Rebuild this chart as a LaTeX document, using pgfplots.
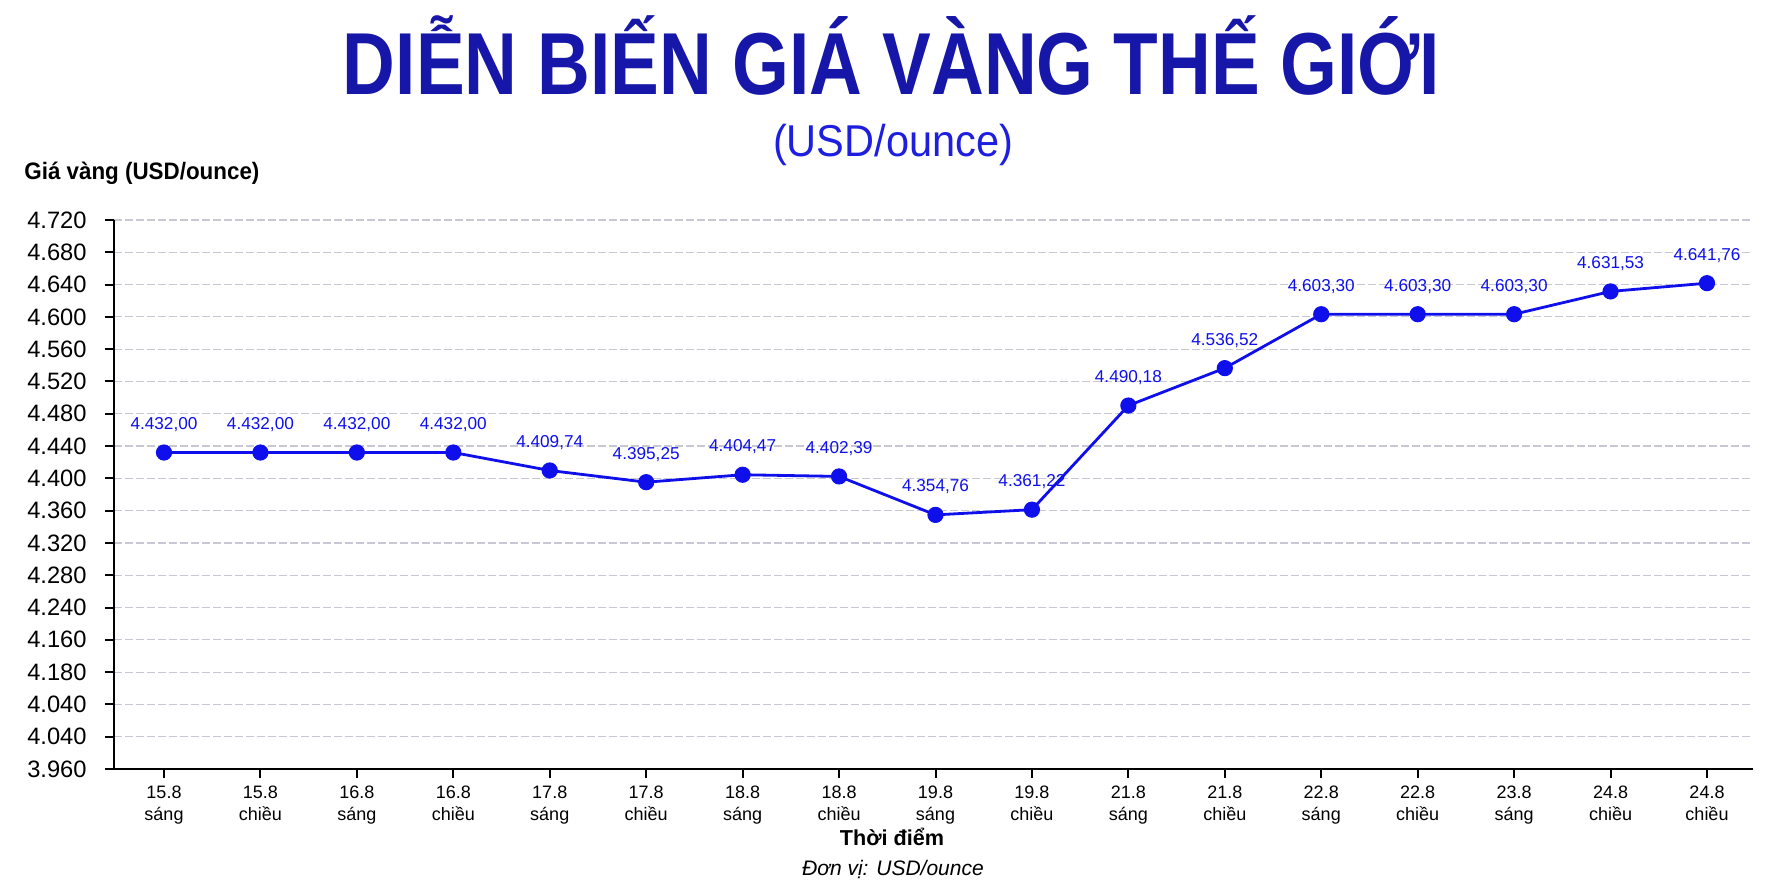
\documentclass[border=0pt]{standalone}
\usepackage{fontspec}
\setmainfont{Liberation Sans}
\usepackage{graphicx}
\usepackage{pgfplots}
\usepackage{pgfplotstable}
\pgfplotsset{compat=1.18}

\definecolor{titleblue}{RGB}{22,22,168}
\definecolor{subblue}{RGB}{30,30,225}
\definecolor{lineblue}{RGB}{15,15,235}
\definecolor{gridgray}{RGB}{200,200,212}

% gold price, USD/ounce
\pgfplotstableread{
x y
0 4432.00
1 4432.00
2 4432.00
3 4432.00
4 4409.74
5 4395.25
6 4404.47
7 4402.39
8 4354.76
9 4361.22
10 4490.18
11 4536.52
12 4603.30
13 4603.30
14 4603.30
15 4631.53
16 4641.76
}\goldtable

\begin{document}
\begin{tikzpicture}
\useasboundingbox (0,0) rectangle (887pt,-443.5pt);

% titles
\node[anchor=base, inner sep=0, text=titleblue] at (445.75pt,-47.5pt)
  {\resizebox{548.5pt}{\height}{\fontsize{44}{48}\selectfont\bfseries DIỄN BIẾN GIÁ VÀNG THẾ GIỚI}};
\node[anchor=base, inner sep=0, text=subblue] at (446.5pt,-78.5pt)
  {\resizebox{120pt}{\height}{\fontsize{22.3}{26}\selectfont (USD/ounce)}};
\node[anchor=base west, inner sep=0] at (12pt,-90pt)
  {\resizebox{117.5pt}{\height}{\fontsize{11.9}{14}\selectfont\bfseries Giá vàng (USD/ounce)}};

\begin{axis}[
  at={(57pt,-384.5pt)}, anchor=south west,
  scale only axis, width=819.5pt, height=274.5pt,
  xmin=-0.5185, xmax=16.477, ymin=4040, ymax=4720,
  axis x line*=bottom, axis y line*=left,
  axis line style={line width=1pt, black, -},
  ytick={4040,4080,...,4720},
  yticklabels={3.960,4.040,4.040,4.180,4.160,4.240,4.280,4.320,4.360,4.400,4.440,4.480,4.520,4.560,4.600,4.640,4.680,4.720},
  xtick={0,...,16},
  xticklabels={{15.8\\sáng},{15.8\\chiều},{16.8\\sáng},{16.8\\chiều},{17.8\\sáng},{17.8\\chiều},{18.8\\sáng},{18.8\\chiều},{19.8\\sáng},{19.8\\chiều},{21.8\\sáng},{21.8\\chiều},{22.8\\sáng},{22.8\\chiều},{23.8\\sáng},{24.8\\chiều},{24.8\\chiều}},
  tick align=outside, major tick length=4.5pt,
  tick style={line width=1pt, black},
  ymajorgrids,
  grid style={gridgray, line width=0.6pt, dash pattern=on 4pt off 1.5pt},
  yticklabel style={font=\fontsize{11.85}{14}\selectfont, anchor=east, inner sep=0pt, xshift=-9pt},
  xticklabel style={font=\fontsize{9}{11}\selectfont, align=center, anchor=north, inner sep=0pt, yshift=-4pt},
  clip=false,
  nodes near coords, point meta=y,
  /pgf/number format/fixed, /pgf/number format/fixed zerofill,
  /pgf/number format/precision=2,
  /pgf/number format/1000 sep={.}, /pgf/number format/dec sep={,},
  /pgf/number format/assume math mode=true,
  every node near coord/.append style={font=\fontsize{8.6}{10}\selectfont, text=lineblue, anchor=center, yshift=14pt, inner sep=0pt},
]
\addplot[lineblue, line width=1.4pt, mark=*, mark size=3.8pt,
  mark options={fill=lineblue, draw=lineblue, line width=0.5pt}]
  table[x=x, y=y] {\goldtable};
\end{axis}

\node[anchor=base, inner sep=0] at (446pt,-422.5pt) {\fontsize{10.8}{12}\selectfont\bfseries Thời điểm};
\node[anchor=base, inner sep=0] at (446.5pt,-437.5pt) {\fontsize{10.5}{12}\selectfont\itshape Đơn vị: USD/ounce};
\end{tikzpicture}
\end{document}
